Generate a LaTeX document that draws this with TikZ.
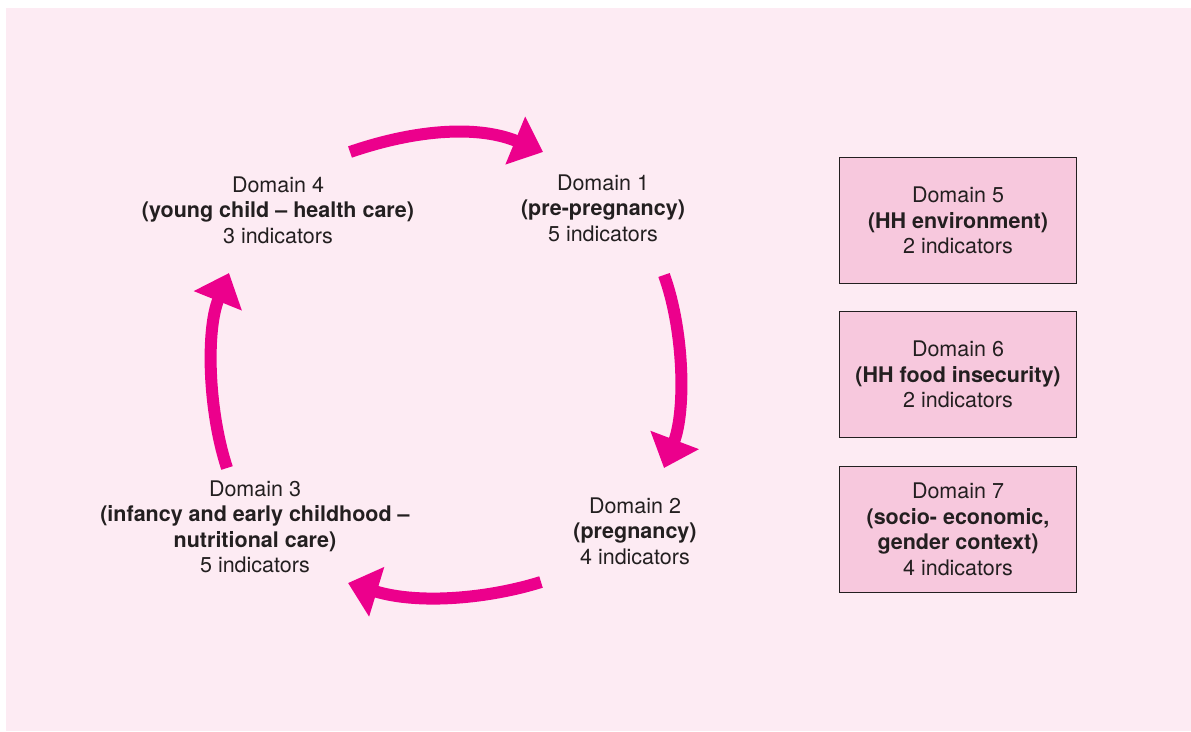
\documentclass[tikz,border=0pt]{standalone}
\usepackage{fontspec}
\setmainfont{TeX Gyre Heros}
\usepackage{tikz}
\usetikzlibrary{positioning}
\usetikzlibrary{arrows.meta}
\definecolor{cyclepink}{HTML}{EC008C}
\definecolor{panelpink}{HTML}{FDEBF3}
\definecolor{boxpink}{HTML}{F7C8DD}
\definecolor{inkgray}{HTML}{231F20}
\tikzset{domaintext/.style={align=center, text=inkgray, inner sep=0pt, font=\fontsize{21.5}{25.5}\selectfont}}
\tikzset{domainbox/.style={domaintext, rectangle, draw=inkgray, fill=boxpink, line width=1pt, minimum width=237pt, minimum height=126pt}}
\tikzset{cyclearrow/.style={draw=cyclepink, line width=12pt, -{Triangle[length=30pt, width=50pt]}}}

\begin{document}
\begin{tikzpicture}[x=1pt, y=-1pt]

    \useasboundingbox (0,0) rectangle (1191,731);
    \fill[panelpink] (6,8) rectangle (1191,731);

    % the four domains of the cycle
    \node[domaintext] (dom1) at (603,208) {Domain 1\\\textbf{(pre-pregnancy)}\\5 indicators};
    \node[domaintext] (dom2) at (635,531) {Domain 2\\\textbf{(pregnancy)}\\4 indicators};
    \node[domaintext] (dom3) at (255,527) {Domain 3\\\textbf{(infancy and early childhood --}\\\textbf{nutritional care)}\\5 indicators};
    \node[domaintext] (dom4) at (278,210) {Domain 4\\\textbf{(young child -- health care)}\\3 indicators};

    % the three boxed domains
    \node[domainbox] (dom5) at (958,220.5) {Domain 5\\\textbf{(HH environment)}\\2 indicators};
    \node[domainbox, below=27pt of dom5] (dom6) {Domain 6\\\textbf{(HH food insecurity)}\\2 indicators};
    \node[domainbox, below=28pt of dom6] (dom7) {Domain 7\\\textbf{(socio- economic,}\\\textbf{gender context)}\\4 indicators};

    % ends of the cycle arrows
    \coordinate (a41) at (350,152);
    \coordinate (a14) at (543,152);
    \coordinate (a12) at (664,275);
    \coordinate (a21) at (664,468);
    \coordinate (a23) at (541,582);
    \coordinate (a32) at (348,583);
    \coordinate (a34) at (227,468);
    \coordinate (a43) at (229,273);

    \draw[cyclearrow] (a41) .. controls (420,128) and (480,126) .. (a14);
    \draw[cyclearrow] (a12) .. controls (684,330) and (686,410) .. (a21);
    \draw[cyclearrow] (a23) .. controls (490,598) and (420,605) .. (a32);
    \draw[cyclearrow] (a34) .. controls (208,410) and (206,330) .. (a43);
\end{tikzpicture}
\end{document}
